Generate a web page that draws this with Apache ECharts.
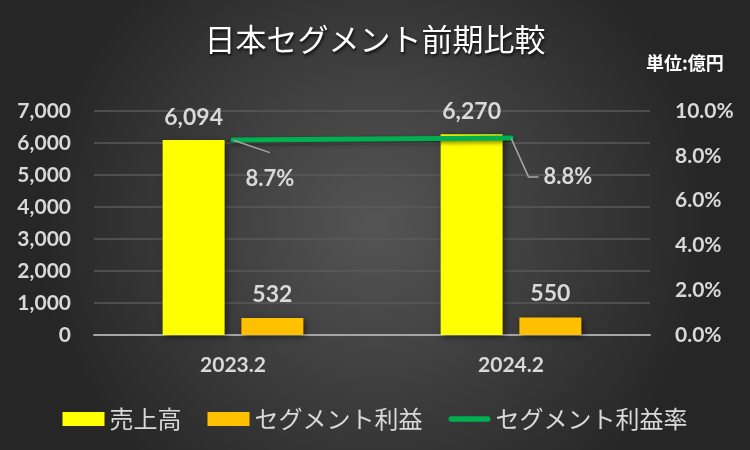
<!DOCTYPE html>
<html><head><meta charset="utf-8">
<script src="https://cdn.jsdelivr.net/npm/echarts@6/dist/echarts.min.js"></script>
<style>html,body{margin:0;padding:0;background:#333;}#c{width:750px;height:450px;}</style>
</head><body><div id="c"></div>
<script>
const categories = ['2023.2', '2024.2'];
const sales = [6094, 6270];
const profit = [532, 550];
const margin = [0.087, 0.088];
const leftTicks = [0, 7000, 1000];
const rightTicks = [0, 0.1, 0.02];

const chart = echarts.init(document.getElementById('c'));
const txt = '#d9d9d9';
const numFont = 'Lato, "Noto Sans", sans-serif';
const jpFont = '"Noto Sans CJK JP", sans-serif';
const lineIcon = 'path://M0,0L0.01,0M0,14L0.01,14M3,4L43,4A3,3,0,0,1,43,10L3,10A3,3,0,0,1,3,4Z';
const labelStyles = [
  {label: {padding: [11, 0, 20, 0], backgroundColor: 'rgba(0,0,0,0)'}, labelLine: {length2: 0}},
  {label: {padding: [0, 0, 0, 5], backgroundColor: 'rgba(0,0,0,0)'}, labelLine: {length2: 10}}
];
const marginData = margin.map((v, i) => Object.assign({value: v}, labelStyles[i]));
chart.setOption({
  backgroundColor: {
    type: 'radial', x: 0.5, y: 0.5, r: 0.75,
    colorStops: [{offset: 0, color: '#555555'}, {offset: 1, color: '#262626'}]
  },
  title: [{
    text: '日本セグメント前期比較', left: 'center', top: 19,
    textStyle: {color: '#ffffff', fontSize: 31, fontWeight: 'normal', fontFamily: jpFont,
      textShadowColor: 'rgba(0,0,0,0.8)', textShadowBlur: 3, textShadowOffsetX: 1, textShadowOffsetY: 2}
  }, {
    text: '単位:億円', left: 641, top: 49,
    textStyle: {color: '#ffffff', fontSize: 18, fontWeight: 'bold', fontFamily: jpFont}
  }],
  legend: {
    bottom: 14, left: 'center', itemWidth: 42, itemHeight: 14, itemGap: 26,
    textStyle: {color: txt, fontSize: 24, fontFamily: jpFont},
    data: [{name: '売上高', icon: 'rect'}, {name: 'セグメント利益', icon: 'rect'},
      {name: 'セグメント利益率', icon: lineIcon, itemStyle: {color: '#00b050', borderWidth: 0}}]
  },
  grid: {left: 94, right: 100, top: 111, bottom: 115, containLabel: false},
  xAxis: {
    type: 'category', data: categories,
    axisLine: {lineStyle: {color: '#a6a6a6', width: 2}},
    axisTick: {show: false},
    axisLabel: {color: txt, fontSize: 21, fontWeight: 'bold', fontFamily: numFont, margin: 20}
  },
  yAxis: [{
    type: 'value', min: leftTicks[0], max: leftTicks[1], interval: leftTicks[2],
    axisLine: {show: false}, axisTick: {show: false},
    splitLine: {lineStyle: {color: '#5a5a5a', width: 1.5}},
    axisLabel: {color: txt, fontSize: 21, fontWeight: 'bold', fontFamily: numFont, margin: 23,
      formatter: v => v.toLocaleString('en-US')}
  }, {
    type: 'value', min: rightTicks[0], max: rightTicks[1], interval: rightTicks[2],
    axisLine: {show: false}, axisTick: {show: false}, splitLine: {show: false},
    axisLabel: {color: txt, fontSize: 21, fontWeight: 'bold', fontFamily: numFont, margin: 25,
      formatter: v => (v * 100).toFixed(1) + '%'}
  }],
  series: [{
    name: '売上高', type: 'bar', data: sales, barWidth: 62, barGap: '27%',
    itemStyle: {color: '#ffff00', shadowColor: 'rgba(0,0,0,0.5)', shadowBlur: 6, shadowOffsetX: 2, shadowOffsetY: 2},
    label: {show: true, position: 'top', distance: 11, color: txt, fontSize: 23, fontWeight: 'bold', fontFamily: numFont,
      formatter: p => p.value.toLocaleString('en-US')}
  }, {
    name: 'セグメント利益', type: 'bar', data: profit, barWidth: 62,
    itemStyle: {color: '#ffc000', shadowColor: 'rgba(0,0,0,0.5)', shadowBlur: 6, shadowOffsetX: 2, shadowOffsetY: 2},
    label: {show: true, position: 'top', distance: 12, color: txt, fontSize: 23, fontWeight: 'bold', fontFamily: numFont,
      formatter: p => p.value.toLocaleString('en-US')}
  }, {
    name: 'セグメント利益率', type: 'line', yAxisIndex: 1, data: marginData,
    symbol: 'circle', symbolSize: 1, showSymbol: true, itemStyle: {color: '#00b050'},
    lineStyle: {color: '#00b050', width: 5, cap: 'round', shadowColor: 'rgba(0,0,0,0.5)', shadowBlur: 4, shadowOffsetY: 2},
    label: {show: true, position: 'right', distance: 0, color: txt, fontSize: 22, fontWeight: 'bold', fontFamily: numFont,
      formatter: p => (p.value * 100).toFixed(1) + '%'},
    labelLine: {show: true, lineStyle: {color: '#a6a6a6', width: 1.5}},
    labelLayout: p => p.dataIndex === 0 ? {dx: 12, dy: 39} : {dx: 27, dy: 39}
  }]
});
</script></body></html>
